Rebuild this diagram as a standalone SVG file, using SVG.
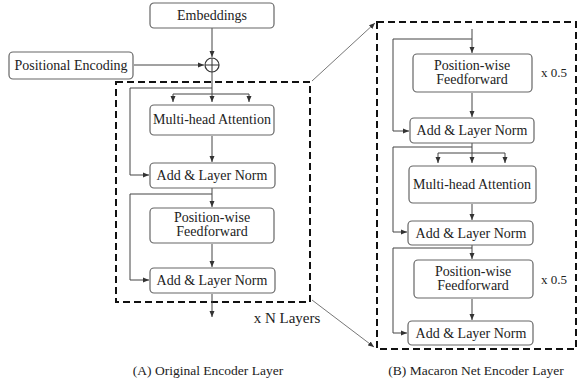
<svg xmlns="http://www.w3.org/2000/svg" width="578" height="381" viewBox="0 0 578 381">
<style>
.box{fill:#fff;stroke:#666;stroke-width:1.2}
text{font-family:'Liberation Serif','Times New Roman',Tinos,'DejaVu Serif',serif;font-size:14px;fill:#222;text-anchor:middle}
.cap{font-size:13.5px}
.mul{font-size:13px}
.ln{fill:none;stroke:#444;stroke-width:1}
.ar{fill:none;stroke:#444;stroke-width:1;marker-end:url(#ah)}
.dash{fill:none;stroke:#111;stroke-width:2;stroke-dasharray:7 4}
.diag{fill:none;stroke:#777;stroke-width:1;marker-end:url(#ah)}
</style>
<defs>
<marker id="ah" markerUnits="userSpaceOnUse" markerWidth="6" markerHeight="6" refX="6" refY="3" orient="auto">
<path d="M0,0.5 L6,3 L0,5.5 z" fill="#333"/>
</marker>
</defs>
<rect width="578" height="381" fill="#fff"/>

<g id="frames">
<rect class="dash" x="116" y="82" width="194" height="220"/>
<rect class="dash" x="377" y="22" width="199" height="327"/>
</g>

<g id="connectors">
<line class="ar" x1="212" y1="28" x2="212" y2="57"/>
<line class="ar" x1="134" y1="65" x2="204" y2="65"/>
<line class="ln" x1="212" y1="72" x2="212" y2="94"/>
<line class="ln" x1="173" y1="94" x2="249" y2="94"/>
<line class="ar" x1="173" y1="94" x2="173" y2="102"/>
<line class="ar" x1="212" y1="94" x2="212" y2="102"/>
<line class="ar" x1="249" y1="94" x2="249" y2="102"/>
<polyline class="ar" points="212,88 130,88 130,175 149,175"/>
<line class="ar" x1="212" y1="136" x2="212" y2="162"/>
<line class="ar" x1="212" y1="188" x2="212" y2="207"/>
<polyline class="ar" points="212,194 130,194 130,280 149,280"/>
<line class="ar" x1="212" y1="244" x2="212" y2="267"/>
<line class="ar" x1="212" y1="294" x2="212" y2="317"/>
<line class="ar" x1="472" y1="29" x2="472" y2="53"/>
<polyline class="ar" points="472,39 393,39 393,131 409,131"/>
<line class="ar" x1="472" y1="93" x2="472" y2="117"/>
<line class="ln" x1="472" y1="143" x2="472" y2="153"/>
<line class="ln" x1="438" y1="153" x2="505" y2="153"/>
<line class="ar" x1="438" y1="153" x2="438" y2="163"/>
<line class="ar" x1="472" y1="153" x2="472" y2="163"/>
<line class="ar" x1="505" y1="153" x2="505" y2="163"/>
<polyline class="ar" points="472,147 393,147 393,232 407,232"/>
<line class="ar" x1="472" y1="204" x2="472" y2="220"/>
<line class="ar" x1="472" y1="245" x2="472" y2="259"/>
<polyline class="ar" points="472,248 393,248 393,333 407,333"/>
<line class="ar" x1="472" y1="299" x2="472" y2="320"/>
<line class="diag" x1="312" y1="81" x2="375" y2="23"/>
<line class="diag" x1="312" y1="300" x2="374" y2="347"/>
</g>

<g id="plus">
<circle cx="212" cy="65" r="7" fill="#fff" stroke="#333" stroke-width="1.2"/>
<line x1="205" y1="65" x2="219" y2="65" stroke="#333" stroke-width="1"/>
<line x1="212" y1="58" x2="212" y2="72" stroke="#333" stroke-width="1"/>
</g>

<g id="embeddings"><rect class="box" x="150" y="3" width="124" height="25" rx="4"/><text x="212" y="20">Embeddings</text></g>
<g id="posenc"><rect class="box" x="9" y="52" width="124" height="27" rx="4"/><text x="71" y="70">Positional Encoding</text></g>
<g id="a-mha"><rect class="box" x="150" y="105" width="124" height="30" rx="4"/><text x="212" y="124">Multi-head Attention</text></g>
<g id="a-norm1"><rect class="box" x="150" y="163" width="125" height="25" rx="4"/><text x="212" y="180">Add &amp; Layer Norm</text></g>
<g id="a-ffn"><rect class="box" x="150" y="208" width="124" height="35" rx="4"/><text x="212" y="222">Position-wise</text><text x="212" y="236">Feedforward</text></g>
<g id="a-norm2"><rect class="box" x="150" y="268" width="125" height="25" rx="4"/><text x="212" y="285">Add &amp; Layer Norm</text></g>

<g id="b-ffn1"><rect class="box" x="413" y="54" width="119" height="38" rx="4"/><text x="472" y="70">Position-wise</text><text x="472" y="84">Feedforward</text></g>
<g id="b-norm1"><rect class="box" x="410" y="118" width="124" height="25" rx="4"/><text x="472" y="135">Add &amp; Layer Norm</text></g>
<g id="b-mha"><rect class="box" x="409" y="166" width="127" height="37" rx="4"/><text x="472" y="189">Multi-head Attention</text></g>
<g id="b-norm2"><rect class="box" x="408" y="221" width="125" height="24" rx="4"/><text x="471" y="238">Add &amp; Layer Norm</text></g>
<g id="b-ffn2"><rect class="box" x="414" y="260" width="119" height="38" rx="4"/><text x="473" y="276">Position-wise</text><text x="473" y="290">Feedforward</text></g>
<g id="b-norm3"><rect class="box" x="408" y="321" width="125" height="24" rx="4"/><text x="471" y="338">Add &amp; Layer Norm</text></g>

<g id="labels">
<text x="287" y="323" style="font-size:15px">x N Layers</text>
<text class="mul" x="554" y="77">x 0.5</text>
<text class="mul" x="554" y="284">x 0.5</text>
<text class="cap" x="208" y="375">(A) Original Encoder Layer</text>
<text class="cap" x="476" y="375">(B) Macaron Net Encoder Layer</text>
</g>
</svg>
